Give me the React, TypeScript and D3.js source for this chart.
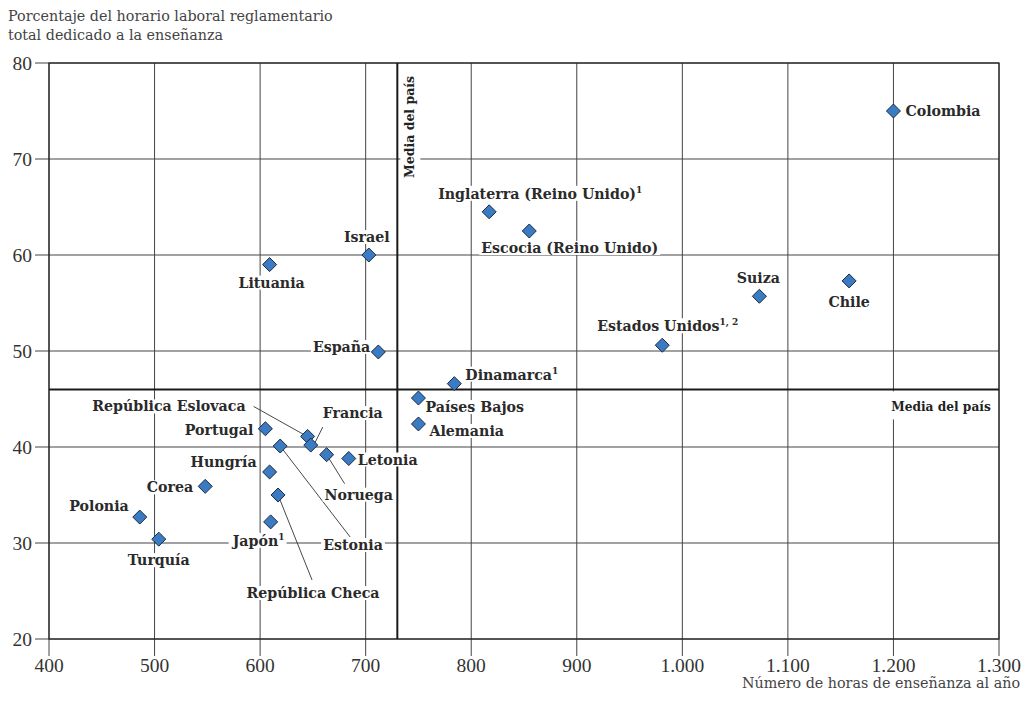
import React, { useLayoutEffect, useRef, useState } from "react";
import * as d3 from "d3";

// ---------- data ----------
const countries = [
  "Colombia", "Inglaterra (Reino Unido)", "Escocia (Reino Unido)", "Israel", "Lituania",
  "Suiza", "Chile", "Estados Unidos", "España", "Dinamarca", "Países Bajos", "Alemania",
  "Portugal", "República Eslovaca", "Francia", "Estonia", "Noruega", "Letonia", "Hungría",
  "Corea", "República Checa", "Polonia", "Japón", "Turquía",
];
const teachingHours = [
  1200, 817, 855, 703, 609, 1073, 1158, 981, 712, 784, 750, 750,
  605, 645, 648, 619, 663, 684, 609, 548, 617, 486, 610, 504,
];
const teachingShare = [
  75, 64.5, 62.5, 60, 59, 55.7, 57.3, 50.6, 49.9, 46.6, 45.1, 42.4,
  41.9, 41.1, 40.2, 40.1, 39.2, 38.8, 37.4, 35.9, 35, 32.7, 32.2, 30.4,
];
const notes = [
  "", "1", "", "", "", "", "", "1, 2", "", "1", "", "",
  "", "", "", "", "", "", "", "", "", "", "1", "",
];
const xTicks = [400, 500, 600, 700, 800, 900, 1000, 1100, 1200, 1300];
const yTicks = [20, 30, 40, 50, 60, 70, 80];
const meanHours = 730;
const meanShare = 46;
const yTitle = ["Porcentaje del horario laboral reglamentario", "total dedicado a la enseñanza"];
const xTitle = "Número de horas de enseñanza al año";
const meanLabel = "Media del país";

// ---------- label layout (pixel offsets from the marker) ----------
type Lay = { dx: number; dy: number; a: "start" | "middle" | "end"; leader?: [number, number, number, number] };
const labelLayout: Record<string, Lay> = {
  "Colombia": { dx: 12, dy: 0, a: "start" },
  "Inglaterra (Reino Unido)": { dx: -51, dy: -18, a: "start" },
  "Escocia (Reino Unido)": { dx: -48, dy: 17, a: "start" },
  "Israel": { dx: -2, dy: -18, a: "middle" },
  "Lituania": { dx: 2, dy: 18, a: "middle" },
  "Suiza": { dx: -1, dy: -18, a: "middle" },
  "Chile": { dx: 0, dy: 21, a: "middle" },
  "Estados Unidos": { dx: -65, dy: -19, a: "start" },
  "España": { dx: -8, dy: -5, a: "end" },
  "Dinamarca": { dx: 11, dy: -9, a: "start" },
  "Países Bajos": { dx: 7, dy: 9, a: "start" },
  "Alemania": { dx: 11, dy: 7, a: "start" },
  "Portugal": { dx: -12, dy: 1, a: "end" },
  "República Eslovaca": { dx: -62, dy: -30, a: "end", leader: [-54, -30, -4, -2] },
  "Francia": { dx: 12, dy: -32, a: "start", leader: [12, -18, 4, -2] },
  "Hungría": { dx: -13, dy: -10, a: "end" },
  "Letonia": { dx: 9, dy: 1, a: "start" },
  "Noruega": { dx: -2, dy: 40, a: "start", leader: [0, 0, 18, 29] },
  "Corea": { dx: -12, dy: 1, a: "end" },
  "Polonia": { dx: -11, dy: -11, a: "end" },
  "Turquía": { dx: 0, dy: 21, a: "middle" },
  "Japón": { dx: -38, dy: 19, a: "start" },
  "Estonia": { dx: 43, dy: 99, a: "start", leader: [0, 0, 70, 91] },
  "República Checa": { dx: 35, dy: 98, a: "middle", leader: [0, 0, 34, 85] },
};

const W = 1024, H = 706;
const left = 49, right = 999, top = 63, bottom = 639;
const labelFont = "'DejaVu Serif', serif";
const axisFont = "'Liberation Serif', serif";
const fmt = (v: number) => (v >= 1000 ? d3.format(",")(v).replace(",", ".") : String(v));

type Box = { x: number; y: number; width: number; height: number };

export default function App() {
  const x = d3.scaleLinear().domain([400, 1300]).range([left, right]);
  const y = d3.scaleLinear().domain([20, 80]).range([bottom, top]);
  const diamond = d3.symbol().type(d3.symbolDiamond2).size(125)();
  const points = countries.map((c, i) => ({ c, n: notes[i], px: x(teachingHours[i]), py: y(teachingShare[i]) }));
  const mx = x(meanHours), my = y(meanShare);

  const labelsRef = useRef<SVGGElement>(null);
  const [boxes, setBoxes] = useState<Box[]>([]);
  useLayoutEffect(() => {
    if (!labelsRef.current) return;
    const bs: Box[] = [];
    labelsRef.current.querySelectorAll("text").forEach((t) => {
      const b = (t as SVGTextElement).getBBox();
      bs.push({ x: b.x, y: b.y, width: b.width, height: b.height });
    });
    setBoxes(bs);
  }, []);

  return (
    <svg width={W} height={H} style={{ position: "absolute", left: 0, top: 0, background: "#fff" }}>
      {/* titles */}
      <g fontFamily={labelFont} fontSize={14.3} fill="#444">
        <text x={8} y={21}>{yTitle[0]}</text>
        <text x={8} y={40}>{yTitle[1]}</text>
        <text x={1020} y={688} textAnchor="end">{xTitle}</text>
      </g>
      {/* grid */}
      <g stroke="#444" strokeWidth={1}>
        {xTicks.map((t) => (
          <line key={"gx" + t} x1={x(t)} x2={x(t)} y1={top} y2={bottom + 17} />
        ))}
        {yTicks.map((t) => (
          <line key={"gy" + t} x1={left - 14} x2={right} y1={y(t)} y2={y(t)} />
        ))}
      </g>
      <rect x={left} y={top} width={right - left} height={bottom - top} fill="none" stroke="#222" strokeWidth={1.2} />
      {/* tick labels */}
      <g fontFamily={axisFont} fontSize={19.5} fill="#333">
        {xTicks.map((t) => (
          <text key={"tx" + t} x={x(t)} y={672} textAnchor="middle">{fmt(t)}</text>
        ))}
        {yTicks.map((t) => (
          <text key={"ty" + t} x={32} y={y(t) + 6.5} textAnchor="end">{t}</text>
        ))}
      </g>
      {/* mean lines */}
      <g stroke="#1a1a1a" strokeWidth={2}>
        <line x1={mx} x2={mx} y1={top} y2={bottom} />
        <line x1={left} x2={right} y1={my} y2={my} />
      </g>
      {/* mean labels */}
      <rect x={mx + 3} y={73} width={20} height={110} fill="#fff" />
      <text
        transform={`translate(${mx + 16.5},127) rotate(-90)`}
        textAnchor="middle"
        fontFamily={labelFont}
        fontWeight="bold"
        fontSize={12.5}
        fill="#222"
      >
        {meanLabel}
      </text>
      <rect x={887} y={my + 2} width={109} height={28} fill="#fff" />
      <text x={941} y={my + 22} textAnchor="middle" fontFamily={labelFont} fontWeight="bold" fontSize={12.2} fill="#222">
        {meanLabel}
      </text>
      {/* leaders */}
      <g stroke="#333" strokeWidth={0.9}>
        {points.map((p) => {
          const l = labelLayout[p.c].leader;
          if (!l) return null;
          return <line key={"ld" + p.c} x1={p.px + l[0]} y1={p.py + l[1]} x2={p.px + l[2]} y2={p.py + l[3]} />;
        })}
      </g>
      {/* label backgrounds */}
      <g fill="#fff">
        {boxes.map((b, i) => (
          <rect key={"bg" + i} x={b.x - 2} y={b.y + 1} width={b.width + 4} height={b.height - 2} />
        ))}
      </g>
      {/* labels */}
      <g ref={labelsRef} fontFamily={labelFont} fontWeight="bold" fontSize={14.2} fill="#2a2a2a">
        {points.map((p) => {
          const L = labelLayout[p.c];
          return (
            <text key={"lb" + p.c} x={p.px + L.dx} y={p.py + L.dy + 5} textAnchor={L.a}>
              {p.c}
              {p.n ? (
                <tspan fontSize={9} dy={-6}>{p.n}</tspan>
              ) : null}
            </text>
          );
        })}
      </g>
      {/* markers */}
      <g fill="#3a7bc4" stroke="#1c2a3d" strokeWidth={1}>
        {points.map((p) => (
          <path key={"pt" + p.c} d={diamond || ""} transform={`translate(${p.px},${p.py})`} />
        ))}
      </g>
    </svg>
  );
}
